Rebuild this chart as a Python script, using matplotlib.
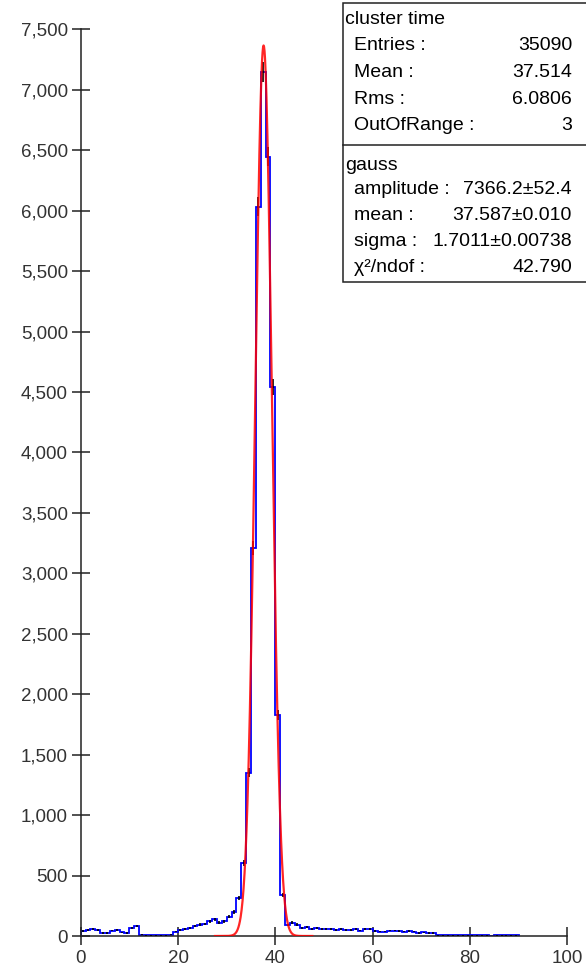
# cluster time histogram with gaussian fit

import numpy as np
import matplotlib.pyplot as plt
from matplotlib.ticker import FuncFormatter

plt.rcParams['font.family'] = ['Liberation Sans', 'DejaVu Sans']

# histogram: 90 bins of width 1 from 0 to 90 (counts)
edges = np.arange(0, 91, 1)
counts = [40, 50, 55, 50, 25, 25, 45, 50, 30, 25,
          70, 80, 10, 5, 5, 5, 5, 5, 10, 35,
          50, 60, 65, 80, 95, 100, 120, 140, 110, 120,
          160, 200, 314, 604, 1351, 3209, 6032, 7149, 6446, 4541,
          1828, 339, 91, 110, 95, 70, 75, 55, 65, 60,
          55, 55, 50, 55, 50, 50, 55, 45, 55, 60,
          40, 35, 35, 45, 45, 40, 35, 40, 35, 25,
          30, 25, 25, 5, 5, 5, 5, 5, 5, 5,
          5, 5, 5, 5, 0, 5, 5, 5, 5, 5]
counts = np.array(counts, dtype=float)

# fit result shown in the stats box
amplitude = 7366.2
mean = 37.587
sigma = 1.7011
fit_lo, fit_hi = 27.6, 47.6

stats_title = "cluster time"
stats_rows = [("Entries :", "35090"), ("Mean :", "37.514"),
              ("Rms :", "6.0806"), ("OutOfRange :", "3")]
fit_title = "gauss"
fit_rows = [("amplitude :", "7366.2\u00b152.4"), ("mean :", "37.587\u00b10.010"),
            ("sigma :", "1.7011\u00b10.00738"), ("\u03c7\u00b2/ndof :", "42.790")]

W, H = 586, 971
fig = plt.figure(figsize=(W / 100, H / 100), dpi=100)
ax = fig.add_axes([80.7 / W, 1 - 936 / H, (567.3 - 80.7) / W, (936 - 29.3) / H])

ax.stairs(counts, edges, color='blue', lw=1.3, zorder=2)
centers = 0.5 * (edges[:-1] + edges[1:])
ax.errorbar(centers, counts, yerr=np.sqrt(counts), fmt='none', ecolor='black',
            elinewidth=1.2, capsize=0, zorder=3)

xf = np.linspace(fit_lo, fit_hi, 400)
yf = amplitude * np.exp(-0.5 * ((xf - mean) / sigma) ** 2)
ax.plot(xf, yf, color='red', lw=1.6, alpha=0.85, zorder=4)

ax.set_xlim(0, 100)
ax.set_ylim(0, 7500)
ax.set_xticks([0, 20, 40, 60, 80, 100])
ax.set_yticks(np.arange(0, 7501, 500))
ax.yaxis.set_major_formatter(FuncFormatter(lambda v, p: f"{v:,.0f}"))
for s in ['top', 'right']:
    ax.spines[s].set_visible(False)
for s in ['left', 'bottom']:
    ax.spines[s].set_linewidth(1.1)
    ax.spines[s].set_color('#222222')
ax.tick_params(direction='inout', length=12.5, width=1.1, color='#222222',
               labelsize=13.5, labelcolor='#333333', pad=3)
ax.tick_params(axis='x', pad=4)

# stats box, drawn in pixel coordinates
box = fig.add_axes([0, 0, 1, 1], zorder=5)
box.set_xlim(0, W)
box.set_ylim(H, 0)
box.axis('off')
box.add_patch(plt.Rectangle((342.7, 3.3), 250, 278.7, facecolor='white',
                            edgecolor='#222222', lw=1.1))
box.plot([342.7, 590], [145, 145], color='#222222', lw=1.1)

fs = 14
box.text(345, 20, stats_title, fontsize=fs, va='center', ha='left')
for i, (lab, val) in enumerate(stats_rows):
    y = 46 + i * 26.5
    box.text(354, y, lab, fontsize=fs, va='center', ha='left')
    box.text(572, y, val, fontsize=fs, va='center', ha='right')
box.text(345, 165, fit_title, fontsize=fs, va='center', ha='left')
for i, (lab, val) in enumerate(fit_rows):
    y = 190 + i * 26
    box.text(354, y, lab, fontsize=fs, va='center', ha='left')
    box.text(572, y, val, fontsize=fs, va='center', ha='right')

fig.savefig('out.png', dpi=100)
